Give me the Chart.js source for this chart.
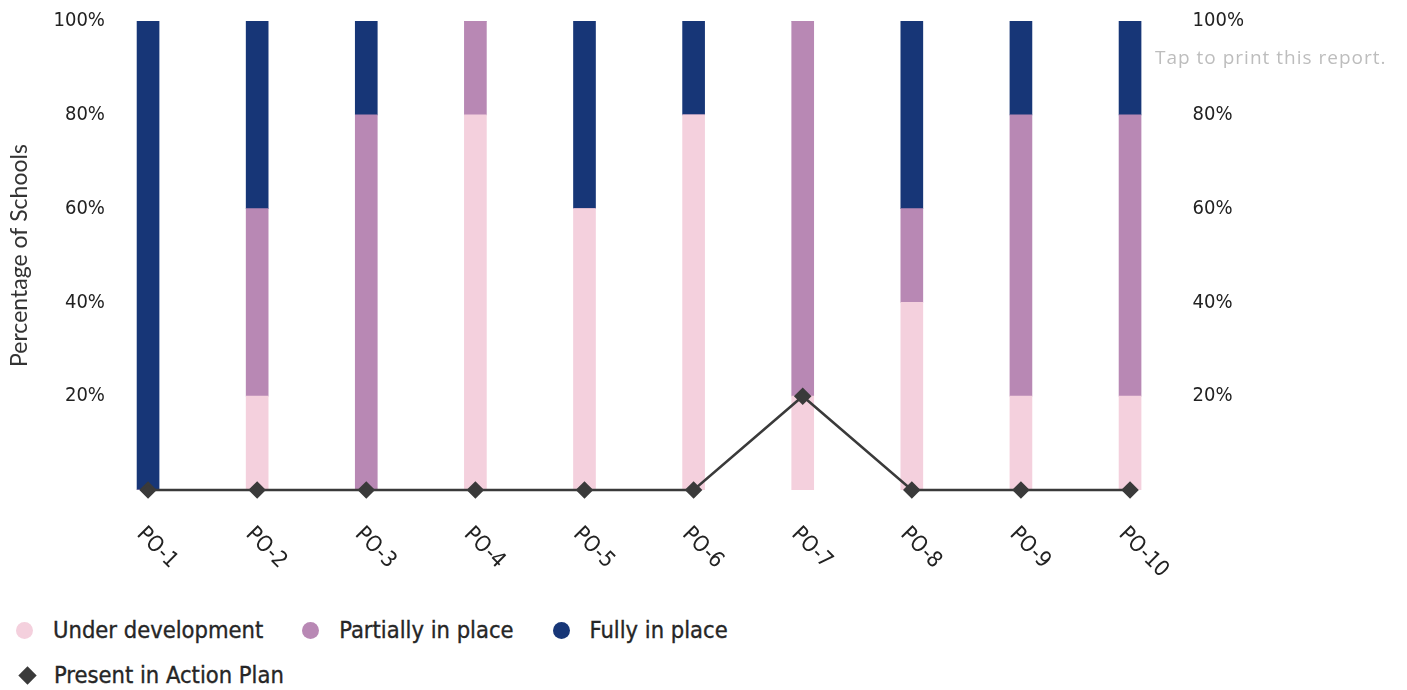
<!DOCTYPE html>
<html>
<head>
<meta charset="utf-8">
<title>Policy status</title>
<script src="https://cdn.jsdelivr.net/npm/chart.js@4.4.0/dist/chart.umd.min.js"></script>
<style>
  html, body { margin: 0; padding: 0; background: #fff; }
  body { width: 1407px; height: 690px; position: relative; overflow: hidden; }
  #chartBox { position: absolute; left: 0; top: 0; width: 1407px; height: 600px; }
  #printNote { position: absolute; left: 1155px; top: 44px; font-family: "Open Sans", sans-serif; font-size: 19px; color: #bdbdbd; letter-spacing: 1px; }
  #legend { position: absolute; left: 16px; top: 615px; font-family: "DejaVu Sans Condensed", "DejaVu Sans", sans-serif; font-size: 23.5px; color: #262626; -webkit-text-stroke: 0.35px #262626; }
  .row { display: flex; align-items: center; height: 30px; margin-bottom: 15px; }
  .item { display: flex; align-items: center; margin-right: 39px; }
  .dot { width: 17px; height: 17px; border-radius: 50%; margin-right: 20px; }
  .dia { width: 13px; height: 13px; transform: rotate(45deg); margin: 0 20px 0 5px; }
</style>
</head>
<body>
<div id="chartBox"><canvas id="poChart" width="1407" height="600"></canvas></div>
<div id="printNote">Tap to print this report.</div>
<div id="legend"></div>

<script>
// data
const categories = ['PO-1', 'PO-2', 'PO-3', 'PO-4', 'PO-5', 'PO-6', 'PO-7', 'PO-8', 'PO-9', 'PO-10'];
const underDevelopment = [0, 20, 0, 80, 60, 80, 20, 40, 20, 20];
const partiallyInPlace = [0, 40, 80, 20, 0, 0, 80, 20, 60, 60];
const fullyInPlace = [100, 40, 20, 0, 40, 20, 0, 40, 20, 20];
const presentInActionPlan = [0, 0, 0, 0, 0, 0, 20, 0, 0, 0];
const yTickValues = [20, 40, 60, 80, 100];

const tickFont = { family: '"DejaVu Sans Condensed", "DejaVu Sans", sans-serif', size: 20 };

// x labels go down-right (clockwise), so draw them ourselves from the scale
const rotatedLabels = {
  id: 'rotatedLabels',
  afterDraw(chart) {
    const { ctx, chartArea } = chart;
    const x = chart.scales.x;
    ctx.save();
    ctx.font = '22px "DejaVu Sans Condensed", "DejaVu Sans", sans-serif';
    ctx.fillStyle = '#222';
    ctx.textAlign = 'left';
    ctx.textBaseline = 'middle';
    chart.data.labels.forEach((lbl, i) => {
      const px = x.getPixelForTick(i);
      ctx.save();
      ctx.translate(px - 8, chartArea.bottom + 41);
      ctx.rotate(Math.PI / 4);
      ctx.fillText(lbl, 0, 0);
      ctx.restore();
    });
    ctx.restore();
  }
};

function fixedTicks(scale) {
  scale.ticks = yTickValues.map(v => ({ value: v }));
}

const chart = new Chart(document.getElementById('poChart'), {
  type: 'bar',
  data: {
    labels: categories,
    datasets: [
      { label: 'Under development', data: underDevelopment, backgroundColor: '#f4d0dd', order: 1, legendShape: 'dot' },
      { label: 'Partially in place', data: partiallyInPlace, backgroundColor: '#b888b4', order: 1, legendShape: 'dot' },
      { label: 'Fully in place', data: fullyInPlace, backgroundColor: '#173677', order: 1, legendShape: 'dot' },
      {
        type: 'line',
        label: 'Present in Action Plan',
        data: presentInActionPlan,
        yAxisID: 'y2',
        borderColor: '#3a3a3a',
        backgroundColor: '#3a3a3a',
        borderWidth: 2.5,
        pointStyle: 'rectRot',
        pointRadius: 7,
        pointBackgroundColor: '#3a3a3a',
        pointBorderColor: '#3a3a3a',
        tension: 0,
        clip: false,
        order: 0,
        legendShape: 'diamond'
      }
    ]
  },
  options: {
    responsive: false,
    animation: false,
    barThickness: 22,
    layout: { padding: { top: 21, left: 0, right: 0, bottom: 0 } },
    plugins: { legend: { display: false }, tooltip: { enabled: false } },
    scales: {
      x: {
        stacked: true,
        grid: { display: false },
        border: { display: false },
        ticks: { display: false },
        afterFit: s => { s.height = 110; }
      },
      y: {
        position: 'left',
        stacked: true,
        min: 0,
        max: 100,
        afterBuildTicks: fixedTicks,
        grid: { display: false, drawTicks: false },
        border: { display: false },
        // mirrored so the labels may sit past the axis edge without clipping
        ticks: { font: tickFont, color: '#222', mirror: true, crossAlign: 'far', padding: -40, callback: v => v + '%' },
        title: {
          display: true,
          text: 'Percentage of Schools',
          font: { family: 'Lato, sans-serif', size: 23 },
          color: '#333',
          padding: { top: 6, bottom: 0 }
        },
        afterFit: s => { s.width = 93.5; }
      },
      y2: {
        position: 'right',
        min: 0,
        max: 100,
        afterBuildTicks: fixedTicks,
        grid: { display: false, drawTicks: false },
        border: { display: false },
        ticks: { font: tickFont, color: '#222', padding: 8, callback: v => v + '%' },
        afterFit: s => { s.width = 222.4; }
      }
    }
  },
  plugins: [rotatedLabels]
});

// legend: circles on the first row, diamond on the second
const legendEl = document.getElementById('legend');
const rowDots = document.createElement('div');
rowDots.className = 'row';
const rowDia = document.createElement('div');
rowDia.className = 'row';
chart.data.datasets.forEach(ds => {
  const item = document.createElement('div');
  item.className = 'item';
  const mark = document.createElement('span');
  mark.className = ds.legendShape === 'diamond' ? 'dia' : 'dot';
  mark.style.background = ds.backgroundColor;
  const txt = document.createElement('span');
  txt.textContent = ds.label;
  item.appendChild(mark);
  item.appendChild(txt);
  (ds.legendShape === 'diamond' ? rowDia : rowDots).appendChild(item);
});
legendEl.appendChild(rowDots);
legendEl.appendChild(rowDia);
</script>
</body>
</html>
